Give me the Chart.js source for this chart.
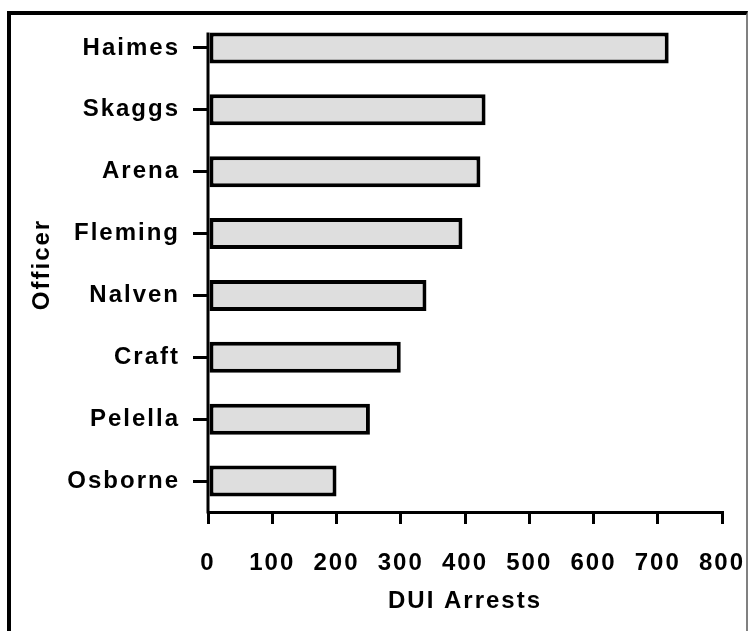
<!DOCTYPE html>
<html>
<head>
<meta charset="utf-8">
<script src="https://cdn.jsdelivr.net/npm/chart.js@4/dist/chart.umd.min.js"></script>
<style>
  html, body { margin: 0; padding: 0; background: #fff; }
  #wrap { position: relative; width: 748px; height: 631px; overflow: hidden; }
  #frame { position: absolute; left: 7px; top: 11px; width: 735px; height: 640px;
           border-top: 4px solid #000; border-left: 4px solid #000; border-right: 2px solid #808080;
           pointer-events: none; }
  canvas { position: absolute; left: 0; top: 0; }
</style>
</head>
<body>
<div id="wrap">
  <canvas id="c" width="748" height="631"></canvas>
  <div id="frame"></div>
</div>
<script>
const officers = ["Haimes", "Skaggs", "Arena", "Fleming", "Nalven", "Craft", "Pelella", "Osborne"];
const duiArrests = [717, 432, 424, 396, 340, 300, 252, 200];
const xTicks = [0, 100, 200, 300, 400, 500, 600, 700, 800];
const xTitle = "DUI Arrests";
const yTitle = "Officer";

const FONT = "'Liberation Sans', Arial, sans-serif";
const SPACING = '2px';

const spacingPlugin = {
  id: 'spacing',
  beforeUpdate(chart) { chart.ctx.letterSpacing = SPACING; },
  beforeLayout(chart) { chart.ctx.letterSpacing = SPACING; },
  beforeDraw(chart) { chart.ctx.letterSpacing = SPACING; }
};

const yAxisLine = {
  id: 'yAxisLine',
  afterDatasetsDraw(chart) {
    const meta = chart.getDatasetMeta(0);
    const first = meta.data[0];
    const x = chart.scales.x.getPixelForValue(0);
    const top = first.y - first.height / 2;
    const bottom = chart.chartArea.bottom;
    const ctx = chart.ctx;
    ctx.save();
    ctx.strokeStyle = '#000';
    ctx.lineWidth = 3;
    ctx.beginPath();
    ctx.moveTo(x, top);
    ctx.lineTo(x, bottom + 1.5);
    ctx.stroke();
    ctx.restore();
  }
};

new Chart(document.getElementById('c'), {
  type: 'bar',
  data: {
    labels: officers,
    datasets: [{
      data: duiArrests,
      backgroundColor: '#dedede',
      borderColor: '#000',
      borderWidth: 4,
      borderSkipped: false,
      categoryPercentage: 1,
      barPercentage: 0.5
    }]
  },
  options: {
    indexAxis: 'y',
    responsive: false,
    animation: false,
    devicePixelRatio: 1,
    layout: { padding: { left: 20, right: 26, top: 17, bottom: 0 } },
    plugins: { legend: { display: false }, tooltip: { enabled: false } },
    scales: {
      x: {
        type: 'linear',
        min: 0, max: 800,
        afterBuildTicks(scale) { scale.ticks = xTicks.map(v => ({ value: v })); },
        afterFit(scale) { scale.height = 631 - 512; scale.paddingLeft = 0; scale.paddingRight = 0; },
        border: { display: true, color: '#000', width: 3 },
        grid: { drawOnChartArea: false, drawTicks: true, tickLength: 12, color: '#000', lineWidth: 3 },
        ticks: { color: '#000', padding: 25, maxRotation: 0, autoSkip: false,
                 font: { family: FONT, size: 24, weight: 'bold' } },
        title: { display: true, text: xTitle, color: '#000',
                 font: { family: FONT, size: 24, weight: 'bold' }, padding: { top: 0, bottom: 15 } }
      },
      y: {
        afterFit(scale) { scale.width = 208 - 20; scale.paddingTop = 0; scale.paddingBottom = 0; },
        border: { display: false },
        grid: { offset: false, drawOnChartArea: false, drawTicks: true, tickLength: 15, color: '#000', lineWidth: 3 },
        ticks: { color: '#000', padding: 13, autoSkip: false,
                 font: { family: FONT, size: 24, weight: 'bold' } },
        title: { display: true, text: yTitle, color: '#000',
                 font: { family: FONT, size: 24, weight: 'bold' }, padding: { top: 8, bottom: 0 } }
      }
    }
  },
  plugins: [spacingPlugin, yAxisLine]
});
</script>
</body>
</html>
